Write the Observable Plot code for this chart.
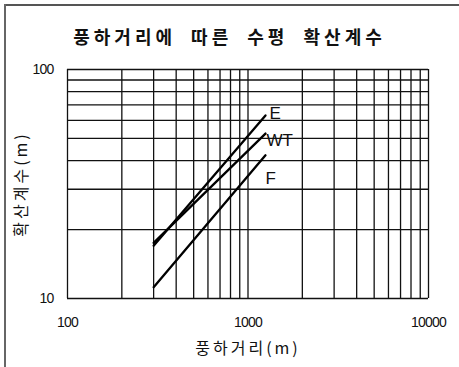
<!DOCTYPE html>
<html>
<head>
<meta charset="utf-8">
<script src="https://cdn.jsdelivr.net/npm/d3@7"></script>
<script src="https://cdn.jsdelivr.net/npm/@observablehq/plot@0.6"></script>
<style>
  html, body { margin: 0; padding: 0; background: #fff; }
  #wrap { position: relative; width: 459px; height: 367px; overflow: hidden; background: #fff; }
  #bt { position: absolute; left: 5px; top: 4px; width: 454px; height: 2px; background: #555; }
  #bl { position: absolute; left: 4px; top: 4px; width: 1.5px; height: 363px; background: #666; }
  #title { position: absolute; left: 0; top: 0; width: 459px; height: 50px; text-align: center;
    font-family: "Noto Sans CJK KR", sans-serif; font-weight: bold; font-size: 18px; line-height: 73px;
    letter-spacing: 4px; word-spacing: 7px; color: #111; }
  #chart { position: absolute; left: 0; top: 50px; }
</style>
</head>
<body>
<div id="wrap">
  <div id="bt"></div>
  <div id="bl"></div>
  <div id="title"></div>
  <div id="chart"></div>
</div>
<script>
const titleText = "풍하거리에 따른 수평 확산계수";
const xLabel = "풍하거리(m)";
const yLabel = "확산계수(m)";

const xTicks = [100, 1000, 10000];
const yTicks = [10, 100];
const xGrid = [100, 200, 300, 400, 500, 600, 700, 800, 900, 1000, 2000, 3000, 4000, 5000, 6000, 7000, 8000, 9000, 10000];
const yGrid = [10, 20, 30, 40, 50, 60, 70, 80, 90, 100];

const seriesNames = ["E", "WT", "F"];
const distance = [300, 1250];
const eValues = [17.0, 63];
const wtValues = [17.5, 52.5];
const fValues = [11.2, 42.2];

const valuesBySeries = [eValues, wtValues, fValues];
const rows = [];
seriesNames.forEach((name, i) => {
  distance.forEach((d, j) => rows.push({series: name, x: d, y: valuesBySeries[i][j]}));
});
const ends = rows.filter(r => r.x === distance[distance.length - 1]);

document.getElementById("title").textContent = titleText;

const chart = Plot.plot({
  width: 459,
  height: 317,
  marginLeft: 67,
  marginRight: 31,
  marginTop: 19,
  marginBottom: 69,
  style: {fontFamily: "'Liberation Sans', 'Noto Sans CJK KR', sans-serif", fontSize: "13px", color: "#111", background: "transparent"},
  x: {type: "log", domain: [100, 10000]},
  y: {type: "log", domain: [10, 100]},
  marks: [
    Plot.ruleX(xGrid, {stroke: "#111", strokeWidth: 1.3}),
    Plot.ruleY(yGrid, {stroke: "#111", strokeWidth: 1.3}),
    Plot.axisX(xTicks, {tickSize: 0, tickPadding: 19, tickFormat: d => String(d), label: null, fontSize: 14}),
    Plot.axisY(yTicks, {tickSize: 0, tickPadding: 14, tickFormat: d => String(d), label: null, fontSize: 14}),
    Plot.line(rows, {x: "x", y: "y", z: "series", stroke: "#000", strokeWidth: 2.3}),
    Plot.text(ends.filter(d => d.series === "E"), {x: "x", y: "y", text: "series", textAnchor: "start", dx: 4, dy: -2, fontSize: 17}),
    Plot.text(ends.filter(d => d.series === "WT"), {x: "x", y: "y", text: "series", textAnchor: "start", dx: 1, dy: 7, fontSize: 17}),
    Plot.text(ends.filter(d => d.series === "F"), {x: "x", y: "y", text: "series", textAnchor: "start", dx: 0, dy: 23, fontSize: 17}),
    Plot.text([xLabel], {text: d => d, frameAnchor: "bottom", textAnchor: "middle", lineAnchor: "middle", dy: 50, fontSize: 16, fontFamily: "'Noto Sans CJK KR', sans-serif"}),
    Plot.text([yLabel], {text: d => d, frameAnchor: "left", textAnchor: "middle", lineAnchor: "middle", dx: -46, rotate: -90, fontSize: 16, fontFamily: "'Noto Sans CJK KR', sans-serif"})
  ]
});
d3.select(chart).selectAll("text").each(function () {
  const t = this.textContent;
  if (t === xLabel || t === yLabel) d3.select(this).attr("letter-spacing", "3px");
  else if (/^\d+$/.test(t)) d3.select(this).attr("letter-spacing", "-0.8px");
});
document.getElementById("chart").appendChild(chart);
</script>
</body>
</html>
